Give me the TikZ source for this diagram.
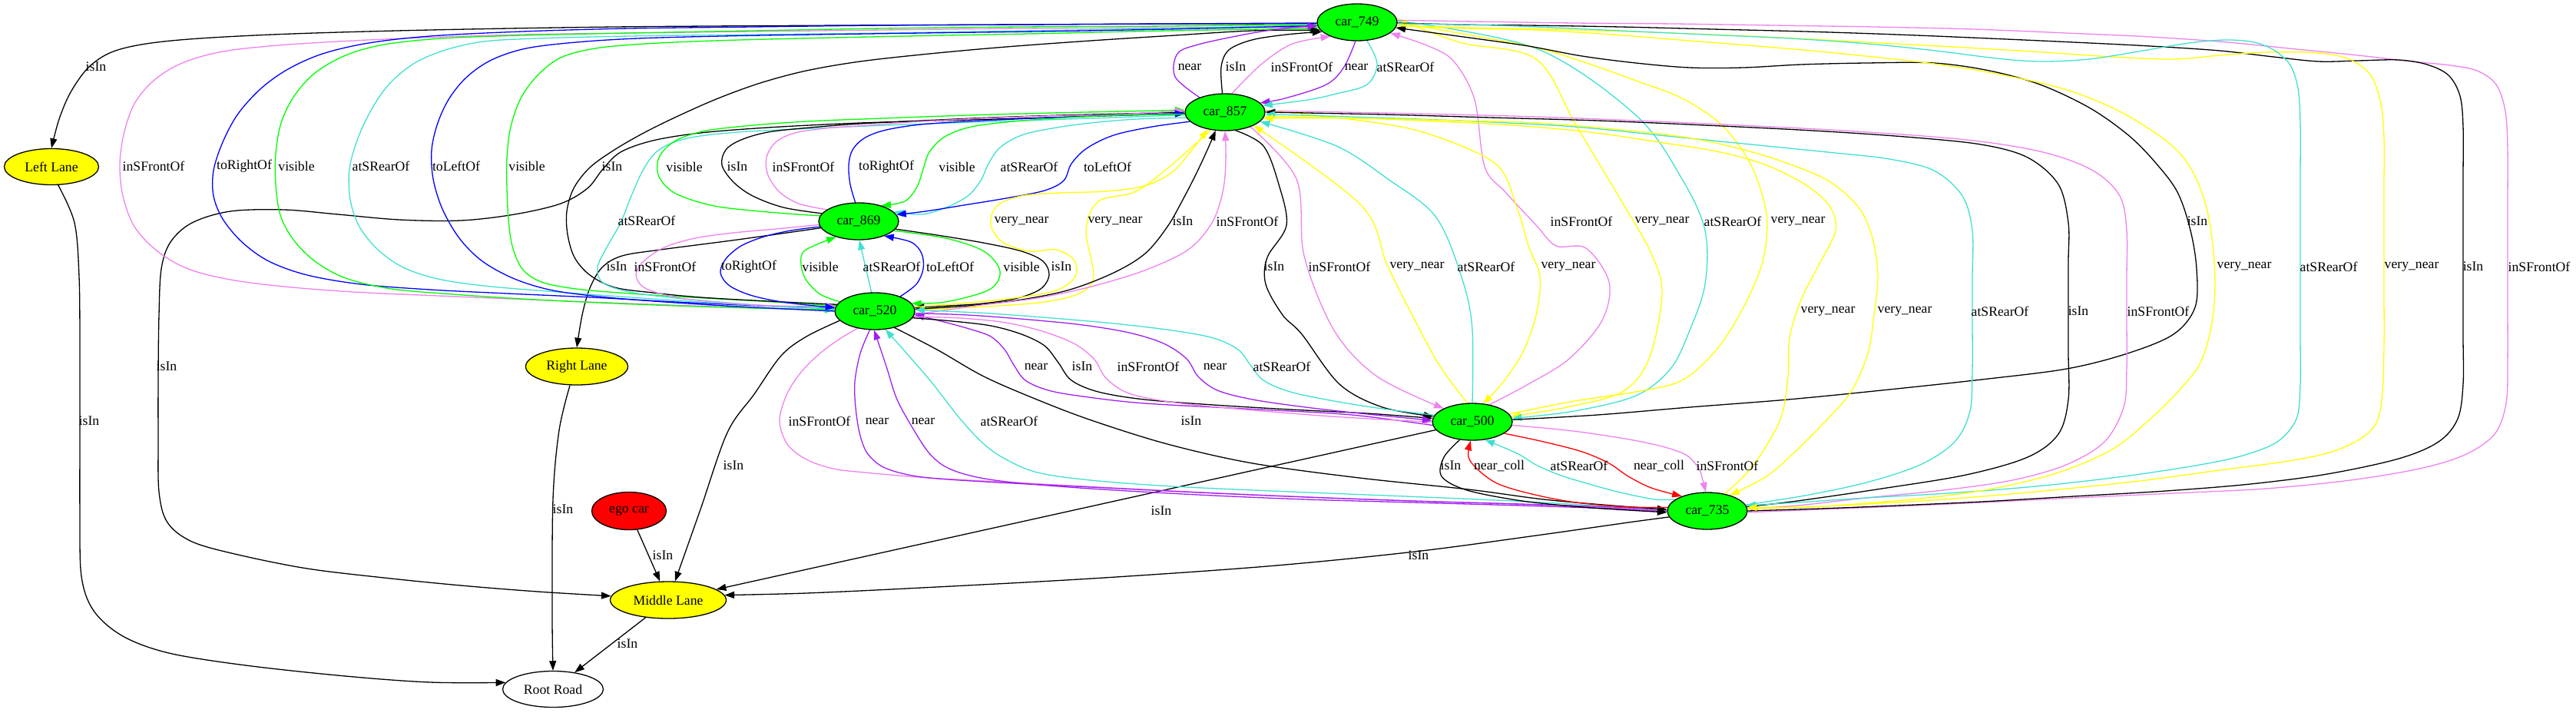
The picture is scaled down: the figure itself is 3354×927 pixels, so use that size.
\documentclass[tikz,border=0pt]{standalone}
\usepackage{fontspec}
\setmainfont{Liberation Serif}
\usetikzlibrary{shapes.geometric,arrows.meta,backgrounds}
\definecolor{gvgreen}{HTML}{00FF00}
\definecolor{gvyellow}{HTML}{FFFF00}
\definecolor{gvred}{HTML}{FF0000}
\definecolor{gvviolet}{HTML}{EE82EE}
\definecolor{gvpurple}{HTML}{A020F0}
\definecolor{gvturq}{HTML}{40E0D0}
\definecolor{gvblue}{HTML}{0000FF}
\newcommand\gvedge[2]{\draw[#1] plot[smooth,tension=0.55] coordinates {#2};}
\tikzset{
  nodebase/.style={ellipse, draw=black, line width=1.3pt, inner sep=0pt},
  car/.style={nodebase, fill=gvgreen, minimum width=104pt, minimum height=48pt},
  lane/.style={nodebase, fill=gvyellow, minimum height=48pt},
  lbl/.style={inner sep=0pt},
  ed/.style={line width=1.3pt, -{Triangle[length=12.6pt,width=9pt]}},
  eK/.style={ed, color=black},
  eV/.style={ed, color=gvviolet},
  eP/.style={ed, color=gvpurple},
  eT/.style={ed, color=gvturq},
  eB/.style={ed, color=gvblue},
  eG/.style={ed, color=gvgreen},
  eY/.style={ed, color=gvyellow},
  eR/.style={ed, color=gvred}
}
\begin{document}
\begin{tikzpicture}[x=1pt,y=-1pt,font=\fontsize{17.7}{20}\selectfont]
\useasboundingbox (0,0) rectangle (3354,927);
% nodes
\node[car] (c749) at (1767,29) {car\_749};
\node[car] (c857) at (1595,146) {car\_857};
\node[car] (c869) at (1118,288) {car\_869};
\node[car] (c520) at (1139,405) {car\_520};
\node[car] (c500) at (1917,549) {car\_500};
\node[car] (c735) at (2223,665) {car\_735};
\node[lane, minimum width=123pt, minimum height=47pt] (LL) at (67,217) {Left Lane};
\node[lane, minimum width=133pt] (RL) at (751,477) {Right Lane};
\node[nodebase, fill=gvred, minimum width=97pt, minimum height=49pt] (ego) at (819,665) {ego car};
\node[lane, minimum width=151pt] (ML) at (870,781) {Middle Lane};
\node[nodebase, fill=white, minimum width=131pt, minimum height=47pt] (RR) at (720,897) {Root Road};

\begin{scope}[on background layer]
% lane / road edges
\gvedge{eK}{(c749.182) (1520,31) (1330,32) (1100,33) (800,35) (560,39) (380,44) (260,50) (190,57) (145,68) (115,88) (92,120) (77,155) (LL.north)}
\gvedge{eK}{(LL.-70) (97,290) (103,360) (104,450) (104,560) (104,670) (106,750) (122,795) (160,828) (220,850) (320,866) (450,880) (560,888) (RR.172)}
\gvedge{eK}{(c857.182) (1400,152) (1260,156) (1120,160) (1000,166) (912,173) (850,183) (808,198) (785,220) (765,245) (730,265) (670,279) (600,287) (520,286) (440,279) (370,273) (300,275) (250,290) (222,315) (210,350) (207,410) (206,490) (206,570) (207,640) (218,680) (250,705) (310,722) (400,740) (500,752) (600,762) (700,770) (ML.176)}
\gvedge{eK}{(RL.-110) (728,560) (720,650) (719,800) (RR.north)}
\gvedge{eK}{(c869.190) (960,312) (860,325) (810,333) (784,348) (768,375) (758,410) (RL.north)}
\draw[eK] (ego) -- (ML);
\draw[eK] (ML) -- (RR);
\gvedge{eK}{(c520.195) (1050,438) (1017,463) (982,513) (947,563) (912,663) (ML.70)}
\draw[eK] (c500) -- (ML);
\gvedge{eK}{(c735.189) (2120,680) (2000,697) (1842,718) (1650,737) (1421,753) (1200,765) (1050,772) (ML.5)}
% car_749 <-> car_520 left loops
\gvedge{eV}{(c520.178) (960,400) (820,395) (690,390) (570,385) (460,380) (370,373) (300,364) (245,350) (205,327) (175,295) (160,255) (156,215) (161,175) (175,135) (200,105) (235,83) (285,68) (350,60) (440,54) (550,49) (680,45) (820,43) (980,41) (1150,39) (1330,37) (1520,36) (c749.187)}
\gvedge{eB}{(c749.181) (1520,31) (1330,32) (1150,33) (980,35) (820,37) (680,41) (560,47) (480,56) (420,70) (375,90) (340,115) (310,148) (290,185) (278,222) (278,255) (290,285) (315,315) (350,340) (400,358) (470,370) (560,377) (660,382) (770,387) (880,393) (990,398) (c520.176)}
\gvedge{eG}{(c749.183) (1520,34) (1330,35) (1150,37) (980,40) (820,43) (680,46) (575,50) (500,58) (450,72) (410,95) (383,125) (366,160) (359,200) (359,240) (365,280) (382,312) (410,340) (450,362) (510,376) (590,383) (680,389) (780,394) (880,398) (980,401) (c520.178)}
\gvedge{eT}{(c749.184) (1520,37) (1330,40) (1150,43) (980,45) (820,47) (700,50) (630,54) (580,65) (540,82) (508,108) (485,140) (466,180) (455,220) (456,260) (468,295) (492,325) (525,348) (570,363) (630,372) (700,378) (780,384) (880,391) (980,397) (c520.177)}
\gvedge{eB}{(c520.180) (980,400) (880,394) (790,387) (720,378) (670,363) (628,340) (598,310) (576,272) (564,233) (562,195) (570,160) (585,128) (608,100) (640,78) (685,63) (750,55) (830,50) (940,47) (1060,45) (1200,43) (1350,41) (1520,38) (c749.185)}
\gvedge{eG}{(c520.172) (990,392) (900,387) (820,382) (750,376) (705,367) (680,350) (667,320) (662,285) (660,245) (660,205) (665,165) (678,128) (700,98) (730,75) (775,63) (840,57) (930,53) (1040,50) (1180,47) (1340,44) (1520,40) (c749.189)}
\gvedge{eK}{(c520.170) (1000,392) (912,387) (850,381) (800,374) (768,358) (748,335) (739,305) (738,275) (747,245) (768,218) (800,195) (840,172) (885,150) (935,128) (990,108) (1050,92) (1120,80) (1210,70) (1310,61) (1420,53) (1530,46) (1630,40) (c749.192)}
\gvedge{eT}{(c857.184) (1420,154) (1300,158) (1180,162) (1060,167) (960,172) (895,180) (858,195) (838,220) (822,255) (808,290) (790,322) (778,348) (785,368) (820,380) (880,388) (960,395) (1030,400) (c520.174)}
% car_869 <-> car_857
\gvedge{eG}{(c869.172) (1000,276) (930,268) (880,252) (858,230) (858,205) (878,184) (915,171) (970,164) (1050,158) (1150,154) (1260,150) (1370,147) (1460,145) (c857.177)}
\gvedge{eK}{(c869.168) (1020,270) (980,255) (955,237) (940,215) (945,195) (965,182) (1000,172) (1055,166) (1120,161) (1200,157) (1290,153) (1380,150) (1460,148) (c857.180)}
\gvedge{eV}{(c869.160) (1040,265) (1015,250) (1000,228) (998,205) (1010,185) (1035,173) (1075,167) (1130,163) (1200,158) (1280,154) (1360,151) (1450,149) (c857.178)}
\gvedge{eB}{(c869.100) (1107,240) (1105,215) (1110,195) (1125,180) (1150,170) (1190,163) (1240,159) (1300,156) (1370,153) (1450,150) (c857.182)}
\gvedge{eG}{(c857.183) (1460,150) (1390,153) (1320,158) (1265,165) (1230,178) (1210,198) (1202,220) (1194,243) (1178,262) (c869.35)}
\gvedge{eT}{(c857.188) (1480,155) (1420,160) (1370,167) (1330,176) (1302,192) (1287,213) (1277,235) (1260,255) (1232,270) (1200,279) (c869.15)}
\gvedge{eB}{(c857.195) (1500,165) (1450,176) (1415,193) (1395,213) (1385,235) (1360,248) (1310,258) (1255,267) (1205,275) (c869.10)}
% car_869 <-> car_520
\gvedge{eV}{(c869.185) (1010,298) (955,303) (905,310) (865,322) (838,340) (828,358) (840,375) (880,387) (940,394) (1010,398) (c520.173)}
\gvedge{eB}{(c869.188) (1030,300) (995,308) (965,320) (945,337) (938,355) (950,372) (980,385) (1025,394) (c520.175)}
\gvedge{eG}{(c520.165) (1068,383) (1050,365) (1043,345) (1048,326) (c869.215)}
\draw[eT] (c520.100) -- (c869.272);
\gvedge{eB}{(c520.30) (1193,370) (1202,350) (1200,330) (1186,315) (c869.-30)}
\gvedge{eG}{(c869.-15) (1231,310) (1281,327) (1302,353) (1288,377) (1231,393) (c520.12)}
\gvedge{eK}{(c869.-12) (1220,306) (1280,316) (1330,327) (1358,340) (1366,358) (1355,376) (1325,388) (1280,395) (1235,398) (c520.5)}
% car_520 <-> car_857
\gvedge{eY}{(c520.6) (1250,395) (1320,388) (1375,378) (1400,360) (1398,338) (1375,325) (1340,327) (1305,315) (1290,292) (1298,268) (1330,255) (1380,251) (1440,249) (1490,242) (1525,225) (1548,200) (c857.225)}
\gvedge{eY}{(c857.232) (1519,220) (1477,250) (1430,262) (1414,300) (1424,360) (1405,382) (1360,393) (1300,398) (1245,401) (c520.2)}
\gvedge{eK}{(c520.3) (1260,398) (1330,390) (1393,377) (1450,355) (1491,330) (1520,295) (1540,260) (1558,225) (1572,195) (c857.243)}
\gvedge{eV}{(c520.-5) (1270,398) (1350,388) (1421,373) (1490,352) (1547,325) (1578,290) (1592,250) (1596,210) (c857.270)}
% car_857 <-> car_749
\gvedge{eP}{(c857.150) (1530,100) (1533,70) (1560,58) (1620,45) (1670,37) (c749.185)}
\gvedge{eK}{(c857.98) (1590,87) (1600,65) (1630,52) (1675,45) (c749.195)}
\gvedge{eV}{(c857.70) (1643,83) (1683,57) (c749.208)}
\gvedge{eP}{(c749.265) (1750,87) (1727,110) (1673,128) (c857.15)}
\gvedge{eT}{(c749.298) (1793,83) (1780,110) (1740,122) (1703,130) (c857.10)}
% car_749 <-> car_500
\gvedge{eV}{(c500.45) (1990,500) (2043,467) (2086,417) (2095,367) (2065,323) (2026,320) (2000,293) (1960,250) (1933,217) (1920,130) (1893,80) (1860,60) (c749.-18)}
\gvedge{eY}{(c749.5) (1900,55) (2000,77) (2052,163) (2112,263) (2150,330) (2164,383) (2147,467) (2112,510) (2040,530) (c500.8)}
\gvedge{eT}{(c749.2) (2000,63) (2130,150) (2190,233) (2220,300) (2220,370) (2200,430) (2175,480) (2130,515) (2050,535) (c500.5)}
\gvedge{eY}{(c500.12) (2050,522) (2130,510) (2190,495) (2235,455) (2270,400) (2295,340) (2300,280) (2280,215) (2242,163) (2190,128) (2130,105) (2060,80) (2000,62) (1910,45) (c749.0)}
\gvedge{eK}{(c500.3) (2080,540) (2200,530) (2328,520) (2450,508) (2580,494) (2691,480) (2770,460) (2830,435) (2858,400) (2860,350) (2852,300) (2835,250) (2805,210) (2770,175) (2720,140) (2656,110) (2590,92) (2518,82) (2430,82) (2345,84) (2270,88) (2200,88) (2130,82) (2060,73) (1990,60) (1920,50) (c749.-8)}
% car_857 <-> car_500
\gvedge{eK}{(c857.-60) (1645,190) (1665,240) (1675,293) (1650,335) (1648,370) (1670,410) (1695,435) (1744,500) (1800,530) (c500.172)}
\gvedge{eV}{(c857.-30) (1688,233) (1698,333) (1737,430) (1793,490) (c500.155)}
\gvedge{eY}{(c500.105) (1877,480) (1849,430) (1807,347) (1772,267) (c857.-25)}
\gvedge{eT}{(c500.90) (1917,430) (1905,367) (1870,283) (1807,233) (1740,190) (c857.-15)}
\gvedge{eY}{(c857.3) (1772,157) (1856,173) (1947,213) (1975,270) (1990,320) (2005,360) (2000,410) (1982,460) (1955,500) (c500.60)}
% car_857 <-> car_735
\gvedge{eV}{(c857.2) (1800,147) (2000,152) (2200,160) (2400,170) (2560,182) (2660,198) (2725,222) (2760,255) (2769,300) (2769,360) (2769,420) (2769,480) (2765,530) (2740,575) (2690,605) (2620,625) (2530,638) (2430,648) (2340,658) (c735.3)}
\gvedge{eK}{(c735.6) (2340,652) (2450,636) (2560,618) (2640,595) (2680,565) (2693,520) (2693,460) (2693,400) (2693,340) (2693,290) (2680,240) (2640,205) (2579,188) (2480,178) (2360,170) (2220,163) (2080,157) (1940,153) (1800,149) (c857.0)}
\gvedge{eT}{(c735.9) (2350,645) (2430,628) (2500,605) (2545,575) (2565,535) (2568,480) (2568,420) (2568,360) (2568,300) (2555,255) (2518,222) (2460,207) (2389,199) (2300,190) (2180,178) (2050,165) (1920,158) (1790,153) (c857.-3)}
\gvedge{eY}{(c857.-6) (1780,154) (1900,157) (2000,160) (2100,168) (2190,178) (2259,192) (2320,210) (2380,235) (2420,270) (2438,310) (2445,360) (2440,410) (2432,460) (2410,510) (2375,550) (2335,590) (2300,620) (c735.35)}
\gvedge{eY}{(c735.45) (2275,615) (2300,580) (2320,540) (2328,490) (2330,440) (2345,390) (2368,345) (2390,300) (2382,268) (2350,240) (2300,215) (2240,198) (2160,185) (2070,172) (1970,163) (1870,158) (1770,154) (c857.-9)}
% car_749 <-> car_735
\gvedge{eV}{(c735.-2) (2370,663) (2470,659) (2580,654) (2700,648) (2830,642) (2950,636) (3060,625) (3150,610) (3209,592) (3248,565) (3263,525) (3265,470) (3265,400) (3265,330) (3265,260) (3265,195) (3262,145) (3250,110) (3225,92) (3190,85) (3140,80) (3070,72) (2990,64) (2900,55) (2800,48) (2690,43) (2570,38) (2440,35) (2310,33) (2180,31) (2050,30) (1920,28) (c749.175)}
\gvedge{eK}{(c735.0) (2370,662) (2470,658) (2580,653) (2700,646) (2820,639) (2930,630) (3030,617) (3123,597) (3175,575) (3200,545) (3207,500) (3207,440) (3207,370) (3207,300) (3207,230) (3207,165) (3203,125) (3188,98) (3160,84) (3123,78) (3070,79) (3019,80) (2960,74) (2890,66) (2800,60) (2700,55) (2590,50) (2470,45) (2350,41) (2230,38) (2110,35) (1990,33) (1900,32) (c749.178)}
\gvedge{eY}{(c735.3) (2350,660) (2432,656) (2530,650) (2640,641) (2777,627) (2890,612) (2980,600) (3036,588) (3075,570) (3095,548) (3102,510) (3104,450) (3104,380) (3104,310) (3104,240) (3104,180) (3100,135) (3088,100) (3065,80) (3036,71) (3000,68) (2950,68) (2890,72) (2829,77) (2750,74) (2660,68) (2560,62) (2450,56) (2340,50) (2230,45) (2120,41) (2010,38) (1910,36) (c749.181)}
\gvedge{eT}{(c749.-2) (1910,32) (2000,35) (2110,40) (2220,45) (2330,50) (2432,57) (2520,66) (2600,76) (2656,80) (2720,77) (2790,66) (2850,56) (2898,52) (2935,55) (2962,66) (2982,85) (2992,115) (2995,160) (2995,230) (2995,300) (2995,370) (2995,440) (2995,500) (2990,545) (2965,575) (2920,593) (2864,605) (2780,618) (2690,629) (2605,637) (2520,643) (2430,648) (2340,654) (c735.8)}
\gvedge{eY}{(c749.-5) (1910,37) (2000,39) (2100,45) (2200,53) (2300,61) (2400,70) (2518,83) (2610,98) (2691,117) (2760,145) (2820,183) (2850,215) (2870,260) (2880,310) (2884,367) (2880,420) (2866,470) (2840,505) (2800,545) (2750,585) (2680,615) (2600,635) (2518,647) (2430,655) (2350,660) (c735.5)}
% car_520 <-> car_500
\gvedge{eP}{(c500.185) (1760,540) (1640,533) (1491,525) (1410,516) (1365,508) (1335,495) (1320,475) (1308,455) (1290,438) (1262,428) (1225,418) (c520.-5)}
\gvedge{eK}{(c520.-10) (1240,418) (1290,424) (1330,435) (1360,450) (1378,472) (1395,495) (1430,510) (1490,520) (1580,527) (1680,533) (1780,538) (c500.175)}
\gvedge{eV}{(c520.-8) (1250,414) (1310,420) (1360,432) (1400,448) (1425,468) (1440,492) (1470,512) (1530,524) (1620,533) (1720,541) (1800,546) (c500.180)}
\gvedge{eP}{(c520.-3) (1260,410) (1340,416) (1410,423) (1470,433) (1515,447) (1545,467) (1560,490) (1585,508) (1631,520) (1700,530) (1780,539) (c500.178)}
\gvedge{eT}{(c500.170) (1800,532) (1737,522) (1680,510) (1645,495) (1628,475) (1612,455) (1580,440) (1526,430) (1450,421) (1370,414) (1290,408) (1230,405) (c520.2)}
% car_520 <-> car_735
\gvedge{eV}{(c520.225) (1095,440) (1070,458) (1045,482) (1025,512) (1015,547) (1025,578) (1050,598) (1085,610) (1126,615) (1210,622) (1320,628) (1450,635) (1590,642) (1730,648) (1870,653) (2000,657) (2100,661) (c735.182)}
\gvedge{eP}{(c520.255) (1120,460) (1113,497) (1114,530) (1119,563) (1128,588) (1145,605) (1170,615) (1210,622) (1300,628) (1420,634) (1560,641) (1700,647) (1840,652) (1980,656) (2100,660) (c735.178)}
\gvedge{eP}{(c735.180) (2100,662) (1980,658) (1840,654) (1700,650) (1560,644) (1420,636) (1320,628) (1267,620) (1232,608) (1210,590) (1190,560) (1168,520) (1155,480) (1145,450) (c520.268)}
\gvedge{eT}{(c735.175) (2100,659) (1970,652) (1830,646) (1680,640) (1526,633) (1420,625) (1351,615) (1310,598) (1281,578) (1250,545) (1215,500) (1185,465) (c520.300)}
\gvedge{eK}{(c520.-40) (1220,455) (1281,490) (1350,520) (1421,547) (1520,578) (1631,603) (1770,622) (1912,637) (2010,650) (2100,658) (c735.178)}
% car_500 <-> car_735
\gvedge{eK}{(c500.235) (1880,595) (1877,620) (1910,638) (1982,652) (2060,660) (2120,664) (c735.182)}
\gvedge{eR}{(c735.175) (2120,660) (2060,655) (2017,648) (1975,638) (1947,628) (1925,612) (1912,595) (c500.265)}
\gvedge{eT}{(c735.160) (2155,650) (2110,641) (2069,630) (2030,618) (2000,605) (1975,590) (c500.305)}
\gvedge{eR}{(c500.-20) (2010,575) (2060,588) (2095,603) (2120,620) (2150,635) (c735.150)}
\gvedge{eV}{(c500.-5) (2040,560) (2110,570) (2160,580) (2195,592) (2212,610) (2217,625) (c735.95)}
\end{scope}

% labels
\node[lbl] (l1) at (125,87) {isIn};
\node[lbl] (l2) at (116,548) {isIn};
\node[lbl] (l3) at (217,477) {isIn};
\node[lbl] (l4) at (733,663) {isIn};
\node[lbl] (l5) at (803,347) {isIn};
\node[lbl] (l6) at (863,723) {isIn};
\node[lbl] (l7) at (817,838) {isIn};
\node[lbl] (l8) at (955,606) {isIn};
\node[lbl] (l9) at (1512,665) {isIn};
\node[lbl] (l10) at (1847,723) {isIn};
\node[lbl] (l12) at (200,216) {inSFrontOf};
\node[lbl] (l13) at (318,216) {toRightOf};
\node[lbl] (l14) at (386,216) {visible};
\node[lbl] (l15) at (496,216) {atSRearOf};
\node[lbl] (l16) at (594,216) {toLeftOf};
\node[lbl] (l17) at (686,216) {visible};
\node[lbl] (l18) at (797,217) {isIn};
\node[lbl] (l19) at (842,287) {atSRearOf};
\node[lbl] (l20) at (891,217) {visible};
\node[lbl] (l21) at (960,217) {isIn};
\node[lbl] (l22) at (1046,217) {inSFrontOf};
\node[lbl] (l23) at (1154,217) {toRightOf};
\node[lbl] (l24) at (1246,217) {visible};
\node[lbl] (l25) at (1340,217) {atSRearOf};
\node[lbl] (l26) at (1442,217) {toLeftOf};
\node[lbl] (l27) at (866,347) {inSFrontOf};
\node[lbl] (l28) at (975,347) {toRightOf};
\node[lbl] (l29) at (1068,347) {visible};
\node[lbl] (l30) at (1161,347) {atSRearOf};
\node[lbl] (l31) at (1237,347) {toLeftOf};
\node[lbl] (l32) at (1330,347) {visible};
\node[lbl] (l33) at (1382,347) {isIn};
\node[lbl] (l34) at (1330,288) {very\_near};
\node[lbl] (l35) at (1452,288) {very\_near};
\node[lbl] (l36) at (1540,288) {isIn};
\node[lbl] (l37) at (1624,288) {inSFrontOf};
\node[lbl] (l38) at (1549,87) {near};
\node[lbl] (l39) at (1609,87) {isIn};
\node[lbl] (l40) at (1695,87) {inSFrontOf};
\node[lbl] (l41) at (1766,87) {near};
\node[lbl] (l42) at (1830,87) {atSRearOf};
\node[lbl] (l43) at (2059,288) {inSFrontOf};
\node[lbl] (l44) at (2164,288) {very\_near};
\node[lbl] (l45) at (2256,288) {atSRearOf};
\node[lbl] (l46) at (2341,288) {very\_near};
\node[lbl] (l47) at (2861,288) {isIn};
\node[lbl] (l48) at (1659,347) {isIn};
\node[lbl] (l49) at (1744,347) {inSFrontOf};
\node[lbl] (l50) at (1845,347) {very\_near};
\node[lbl] (l51) at (1935,347) {atSRearOf};
\node[lbl] (l52) at (2042,347) {very\_near};
\node[lbl] (l53) at (2810,405) {inSFrontOf};
\node[lbl] (l54) at (2706,405) {isIn};
\node[lbl] (l55) at (2604,405) {atSRearOf};
\node[lbl] (l56) at (2480,405) {very\_near};
\node[lbl] (l57) at (2380,405) {very\_near};
\node[lbl] (l58) at (3306,347) {inSFrontOf};
\node[lbl] (l59) at (3220,347) {isIn};
\node[lbl] (l60) at (3140,347) {very\_near};
\node[lbl] (l61) at (3032,347) {atSRearOf};
\node[lbl] (l62) at (2922,347) {very\_near};
\node[lbl] (l63) at (1349,477) {near};
\node[lbl] (l64) at (1409,477) {isIn};
\node[lbl] (l65) at (1495,477) {inSFrontOf};
\node[lbl] (l66) at (1582,477) {near};
\node[lbl] (l67) at (1669,477) {atSRearOf};
\node[lbl] (l68) at (1067,548) {inSFrontOf};
\node[lbl] (l69) at (1142,548) {near};
\node[lbl] (l70) at (1202,548) {near};
\node[lbl] (l71) at (1314,548) {atSRearOf};
\node[lbl] (l72) at (1551,548) {isIn};
\node[lbl] (l73) at (1889,606) {isIn};
\node[lbl] (l74) at (1952,606) {near\_coll};
\node[lbl] (l75) at (2056,606) {atSRearOf};
\node[lbl] (l76) at (2160,606) {near\_coll};
\node[lbl] (l77) at (2249,606) {inSFrontOf};
\end{tikzpicture}
\end{document}
